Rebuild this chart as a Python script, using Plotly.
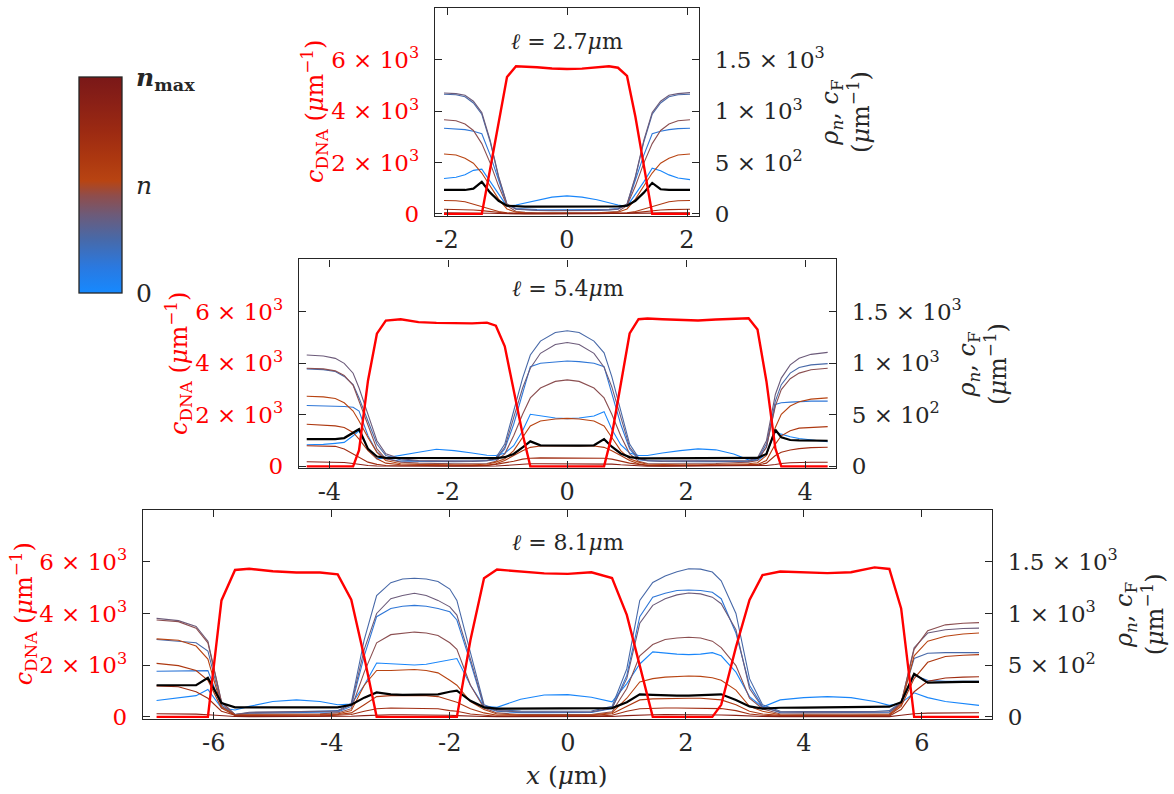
import plotly.graph_objects as go

# ---------------- data ----------------
# panel l = 2.7 um
top_x = [-2.05, -1.85, -1.70, -1.56, -1.42, -1.28, -1.14, -1.0, -0.85, -0.7,
         -0.5, -0.25, 0.0, 0.25, 0.5, 0.7, 0.85, 1.0, 1.14, 1.28,
         1.42, 1.56, 1.70, 1.85, 2.05]
top_dna = [0, 0, 0, 0, 0, 1760, 3510, 5330, 5750, 5740,
           5710, 5660, 5640, 5655, 5700, 5745, 5690, 5370, 3780, 1820,
           0, 0, 0, 0, 0]
top_cf = [233, 233, 233, 246, 312, 207, 128, 80, 72, 70,
          70, 70, 70, 70, 70, 70, 72, 80, 128, 207,
          302, 240, 233, 233, 233]
top_n_lb = [344, 357, 382, 424, 436, 312, 191, 74, 86, 106,
            137, 163, 176, 163, 137, 106, 86, 74, 191, 312,
            445, 420, 380, 350, 334]
top_n_b = [834, 830, 820, 805, 780, 572, 319, 86, 52, 46,
           43, 41, 40, 41, 43, 46, 52, 86, 319, 572,
           780, 805, 820, 830, 834]
top_n_sb = [1165, 1160, 1140, 1080, 970, 700, 355, 92, 45, 38,
            34, 32, 31, 32, 34, 38, 45, 92, 355, 700,
            970, 1080, 1140, 1160, 1165]
top_n_pg = [1177, 1171, 1155, 1097, 986, 716, 366, 96, 48, 40,
            35, 33, 32, 33, 35, 40, 48, 96, 366, 716,
            986, 1097, 1155, 1171, 1180]
top_n_br1 = [916, 907, 875, 812, 684, 494, 271, 80, 23, 15,
             12, 10, 10, 10, 12, 15, 23, 80, 271, 494,
             684, 812, 875, 907, 916]
top_n_br2 = [583, 573, 541, 494, 398, 271, 144, 48, 17, 10,
             8, 7, 7, 7, 8, 10, 17, 48, 144, 271,
             398, 494, 541, 573, 583]
top_n_br3 = [131, 128, 118, 96, 74, 48, 23, 10, 5, 3,
             3, 3, 3, 3, 3, 3, 5, 10, 23, 48,
             74, 96, 118, 128, 131]
top_n_br4 = [45, 44, 42, 38, 32, 22, 13, 6, 3, 2,
             2, 2, 2, 2, 2, 2, 3, 6, 13, 22,
             32, 38, 42, 44, 45]
top_n_dr = [12, 12, 11, 10, 8, 6, 4, 2, 1, 1,
            1, 1, 1, 1, 1, 1, 1, 2, 4, 6,
            8, 10, 11, 12, 12]

# panel l = 5.4 um
mid_x = [-4.38, -4.1, -3.9, -3.75, -3.6, -3.5, -3.35, -3.2, -3.05, -2.8,
         -2.5, -2.2, -1.9, -1.6, -1.35, -1.2, -1.05, -0.9, -0.75, -0.62,
         -0.45, -0.2, 0.0, 0.2, 0.45, 0.62, 0.75, 0.9, 1.05, 1.2,
         1.35, 1.6, 1.9, 2.2, 2.5, 2.8, 3.05, 3.2, 3.35, 3.5,
         3.6, 3.75, 3.9, 4.1, 4.38]
mid_dna = [0, 0, 0, 0, 0, 630, 3320, 5140, 5650, 5700,
           5590, 5560, 5545, 5540, 5570, 5450, 4650, 2950, 1250, 0,
           0, 0, 0, 0, 0, 0, 1200, 3100, 5150, 5700,
           5730, 5700, 5680, 5650, 5690, 5710, 5740, 5300, 3300, 700,
           0, 0, 0, 0, 0]
mid_cf = [264, 264, 264, 274, 328, 360, 169, 95, 82, 82,
          82, 82, 79, 76, 76, 79, 89, 120, 184, 242,
          204, 200, 200, 200, 204, 264, 190, 125, 90, 80,
          78, 78, 78, 79, 80, 80, 76, 82, 120, 354,
          281, 255, 251, 248, 248]
mid_n_lb = [210, 213, 223, 232, 296, 344, 169, 73, 82, 104,
            136, 165, 152, 130, 108, 105, 127, 200, 344, 504,
            488, 469, 462, 469, 488, 530, 360, 210, 130, 105,
            105, 130, 152, 169, 160, 120, 63, 57, 120, 335,
            312, 286, 270, 255, 239]
mid_n_b = [590, 587, 584, 580, 572, 536, 296, 140, 73, 50,
           50, 52, 52, 52, 55, 63, 168, 408, 696, 966,
           998, 1014, 1020, 1014, 998, 966, 696, 408, 168, 63,
           55, 52, 52, 52, 50, 50, 50, 73, 184, 600,
           616, 622, 629, 632, 632]
mid_n_sb = [944, 937, 919, 871, 791, 663, 440, 216, 105, 63,
            51, 44, 44, 47, 57, 82, 216, 536, 855, 1079,
            1213, 1296, 1314, 1296, 1213, 1100, 870, 540, 216, 82,
            57, 47, 44, 44, 46, 48, 50, 73, 216, 632,
            791, 903, 957, 983, 995]
mid_n_pg = [1079, 1069, 1046, 998, 902, 759, 504, 248, 121, 73,
            57, 51, 51, 51, 55, 73, 184, 472, 759, 951,
            1095, 1181, 1199, 1181, 1095, 960, 770, 480, 184, 73,
            55, 51, 51, 51, 53, 55, 57, 82, 248, 696,
            855, 983, 1047, 1085, 1104]
mid_n_br1 = [950, 944, 925, 881, 785, 631, 392, 169, 73, 41,
             31, 25, 25, 25, 28, 50, 121, 296, 504, 663,
             759, 823, 838, 823, 759, 663, 504, 296, 121, 50,
             28, 25, 25, 25, 28, 35, 41, 57, 184, 583,
             743, 849, 903, 935, 950]
mid_n_br2 = [679, 673, 657, 616, 536, 440, 280, 136, 57, 25,
             19, 15, 15, 15, 20, 41, 73, 152, 280, 392,
             440, 459, 465, 459, 440, 392, 280, 152, 73, 41,
             20, 15, 15, 15, 18, 22, 25, 35, 105, 376,
             504, 584, 625, 651, 663]
mid_n_br3 = [408, 402, 392, 376, 328, 264, 152, 73, 31, 15,
             9, 6, 6, 7, 10, 25, 57, 105, 152, 184,
             197, 200, 200, 200, 197, 184, 152, 105, 57, 25,
             10, 7, 6, 6, 8, 12, 15, 19, 57, 216,
             296, 344, 370, 379, 385]
mid_n_br4 = [200, 200, 194, 168, 121, 82, 41, 19, 9, 6,
             6, 6, 6, 6, 8, 19, 31, 50, 70, 79,
             82, 82, 82, 82, 82, 79, 70, 50, 31, 19,
             8, 6, 6, 6, 6, 8, 9, 12, 31, 105,
             136, 159, 172, 181, 185]
mid_n_dr = [45, 45, 43, 38, 28, 18, 8, 3, 2, 1,
            1, 1, 1, 1, 1, 3, 9, 15, 22, 25,
            25, 25, 25, 25, 25, 25, 22, 15, 9, 3,
            1, 1, 1, 1, 1, 1, 2, 3, 8, 18,
            28, 35, 38, 40, 40]

# panel l = 8.1 um
bot_x = [-6.97, -6.6, -6.3, -6.1, -5.87, -5.64, -5.4, -5.0, -4.6, -4.2,
         -3.9, -3.67, -3.45, -3.24, -3.0, -2.8, -2.6, -2.4, -2.2, -2.0,
         -1.88, -1.65, -1.42, -1.2, -0.8, -0.4, 0.0, 0.4, 0.75, 1.0,
         1.22, 1.44, 1.65, 1.85, 2.05, 2.25, 2.45, 2.6, 2.85, 3.08,
         3.3, 3.6, 4.0, 4.4, 4.8, 5.2, 5.45, 5.65, 5.87, 6.1,
         6.4, 6.7, 6.97]
bot_dna = [0, 0, 0, 0, 4510, 5690, 5740, 5640, 5590, 5590,
           5520, 4535, 2320, 0, 0, 0, 0, 0, 0, 0,
           0, 2980, 5370, 5705, 5620, 5560, 5540, 5600, 5380, 3950,
           1985, 0, 0, 0, 0, 0, 0, 465, 2700, 4530,
           5490, 5630, 5600, 5570, 5600, 5790, 5730, 4200, 0, 0,
           0, 0, 0]
bot_cf = [306, 306, 306, 379, 133, 92, 92, 92, 92, 92,
          92, 117, 186, 237, 218, 212, 212, 212, 218, 243,
          253, 155, 92, 79, 79, 79, 79, 79, 85, 142,
          218, 212, 205, 205, 205, 208, 212, 218, 164, 101,
          79, 88, 90, 92, 92, 92, 98, 142, 417, 332,
          338, 338, 338]
bot_n_lb = [158, 180, 205, 265, 85, 66, 101, 148, 164, 148,
            117, 123, 306, 521, 512, 505, 502, 509, 528, 550,
            565, 306, 101, 92, 171, 212, 215, 190, 145, 322,
            512, 629, 616, 607, 603, 607, 622, 591, 433, 196,
            95, 164, 186, 196, 186, 148, 111, 133, 233, 186,
            148, 126, 111]
bot_n_b = [442, 442, 442, 448, 101, 22, 35, 40, 42, 45,
           47, 101, 591, 970, 1049, 1071, 1080, 1071, 1049, 1017,
           938, 528, 92, 54, 41, 41, 41, 42, 80, 401,
           970, 1159, 1197, 1223, 1229, 1223, 1207, 1144, 812, 306,
           101, 41, 40, 40, 40, 42, 45, 133, 401, 354,
           344, 344, 344]
bot_n_sb = [749, 733, 717, 638, 117, 22, 40, 45, 50, 52,
            60, 133, 749, 1175, 1300, 1335, 1343, 1335, 1310, 1238,
            1128, 622, 117, 70, 55, 54, 54, 56, 101, 464,
            1128, 1301, 1365, 1406, 1434, 1431, 1403, 1317, 1001, 370,
            117, 54, 52, 50, 50, 52, 60, 142, 565, 616,
            622, 622, 622]
bot_n_pg = [954, 932, 875, 733, 148, 22, 45, 48, 50, 52,
            54, 117, 654, 1001, 1144, 1175, 1197, 1175, 1128, 1065,
            986, 559, 101, 60, 47, 47, 47, 48, 85, 370,
            906, 1080, 1144, 1181, 1200, 1191, 1159, 1096, 843, 275,
            92, 47, 46, 45, 45, 47, 50, 130, 670, 812,
            843, 856, 859]
bot_n_br1 = [938, 922, 859, 717, 142, 22, 28, 28, 28, 30,
             38, 79, 433, 717, 796, 812, 821, 812, 787, 717,
             654, 306, 85, 38, 22, 22, 22, 22, 50, 275,
             591, 701, 749, 764, 771, 764, 733, 670, 496, 180,
             79, 28, 26, 25, 25, 26, 28, 133, 654, 834,
             891, 907, 913]
bot_n_br2 = [755, 742, 686, 559, 101, 16, 20, 20, 20, 22,
             28, 60, 306, 449, 449, 455, 458, 449, 426, 354,
             306, 148, 70, 28, 18, 18, 18, 18, 40, 180,
             338, 370, 385, 392, 395, 392, 379, 354, 259, 101,
             54, 20, 18, 18, 18, 20, 22, 117, 591, 733,
             780, 802, 812]
bot_n_br3 = [518, 496, 449, 354, 85, 13, 14, 14, 14, 16,
             22, 38, 117, 196, 205, 205, 205, 205, 196, 164,
             142, 79, 38, 16, 12, 12, 12, 12, 30, 101,
             164, 174, 178, 180, 180, 180, 174, 164, 117, 54,
             28, 14, 12, 12, 12, 14, 16, 101, 370, 528,
             585, 597, 603]
bot_n_br4 = [300, 291, 243, 180, 54, 16, 8, 8, 8, 9,
             16, 22, 54, 79, 85, 85, 85, 85, 79, 60,
             54, 28, 16, 6, 6, 6, 6, 6, 15, 54,
             79, 85, 85, 85, 85, 85, 85, 80, 60, 28,
             16, 8, 7, 7, 7, 8, 9, 70, 243, 344,
             376, 385, 389]
bot_n_dr = [30, 29, 26, 20, 8, 3, 2, 2, 2, 2,
            3, 5, 12, 18, 20, 20, 20, 20, 18, 15,
            12, 6, 3, 2, 1, 1, 1, 1, 4, 12,
            18, 20, 22, 22, 22, 22, 20, 18, 14, 7,
            3, 2, 2, 2, 2, 2, 2, 15, 30, 36,
            39, 40, 40]

# position of each cluster-size curve on the colour scale (0 -> n_max)
n_levels = {"lb": 0.02, "b": 0.14, "sb": 0.25, "pg": 0.36, "br1": 0.44,
            "br2": 0.52, "br3": 0.62, "br4": 0.72, "dr": 0.88}

panel_titles = ["<i>ℓ</i> = 2.7<i>μ</i>m", "<i>ℓ</i> = 5.4<i>μ</i>m", "<i>ℓ</i> = 8.1<i>μ</i>m"]
x_ticks_top = [-2, 0, 2]
x_ticks_mid = [-4, -2, 0, 2, 4]
x_ticks_bot = [-6, -4, -2, 0, 2, 4, 6]
dna_ticks = [0, 2000, 4000, 6000]
dna_tick_text = ["0", "2 × 10<sup>3</sup>", "4 × 10<sup>3</sup>", "6 × 10<sup>3</sup>"]
rho_ticks = [0, 500, 1000, 1500]
rho_tick_text = ["0", "5 × 10<sup>2</sup>", "1 × 10<sup>3</sup>", "1.5 × 10<sup>3</sup>"]
cbar_ticks = [0, 0.5, 1]
cbar_tick_text = [" 0", " <i>n</i>", " <b><i>n</i><sub>max</sub></b>"]

# ---------------- styling ----------------
W, H = 1174, 794
FONT = "DejaVu Serif"
INK = "#262626"
RED = "#ff0000"
FS = 23

N_SCALE = [
    [0.00, "#1689ff"],
    [0.12, "#2a79e0"],
    [0.25, "#4869a8"],
    [0.36, "#6c5b7a"],
    [0.45, "#8f4d4c"],
    [0.52, "#b84412"],
    [0.62, "#ad3810"],
    [0.75, "#9c2a12"],
    [0.88, "#8a2016"],
    [1.00, "#7a1818"],
]


def n_colour(t):
    for (p0, c0), (p1, c1) in zip(N_SCALE[:-1], N_SCALE[1:]):
        if p0 <= t <= p1:
            f = (t - p0) / (p1 - p0)
            a = [int(c0[i:i + 2], 16) for i in (1, 3, 5)]
            b = [int(c1[i:i + 2], 16) for i in (1, 3, 5)]
            r = [round(a[k] + f * (b[k] - a[k])) for k in range(3)]
            return f"rgb({r[0]},{r[1]},{r[2]})"
    return N_SCALE[-1][1]


def px_x(v):
    return v / W


def px_y(v):
    return 1 - v / H


panels = [
    dict(box=(435, 8, 699, 219), xr=[-2.2, 2.2], xt=x_ticks_top, title_y=42,
         x=top_x, dna=top_dna, cf=top_cf,
         n={"lb": top_n_lb, "b": top_n_b, "sb": top_n_sb, "pg": top_n_pg, "br1": top_n_br1,
            "br2": top_n_br2, "br3": top_n_br3, "br4": top_n_br4, "dr": top_n_dr}),
    dict(box=(299, 263, 836, 475), xr=[-4.51, 4.52], xt=x_ticks_mid, title_y=293,
         x=mid_x, dna=mid_dna, cf=mid_cf,
         n={"lb": mid_n_lb, "b": mid_n_b, "sb": mid_n_sb, "pg": mid_n_pg, "br1": mid_n_br1,
            "br2": mid_n_br2, "br3": mid_n_br3, "br4": mid_n_br4, "dr": mid_n_dr}),
    dict(box=(143, 517, 992, 729), xr=[-7.2, 7.19], xt=x_ticks_bot, title_y=550,
         x=bot_x, dna=bot_dna, cf=bot_cf,
         n={"lb": bot_n_lb, "b": bot_n_b, "sb": bot_n_sb, "pg": bot_n_pg, "br1": bot_n_br1,
            "br2": bot_n_br2, "br3": bot_n_br3, "br4": bot_n_br4, "dr": bot_n_dr}),
]

fig = go.Figure()
layout = dict(width=W, height=H, margin=dict(l=0, r=0, t=0, b=0),
              paper_bgcolor="white", plot_bgcolor="rgba(0,0,0,0)",
              showlegend=False, font=dict(family=FONT, size=FS, color=INK))
annotations = []

for i, p in enumerate(panels):
    xa = "x" if i == 0 else f"x{i + 1}"
    yb = "y" if i == 0 else f"y{2 * i + 1}"      # right axis: rho_n, c_F
    yo = f"y{2 * i + 2}"                          # left axis: c_DNA
    xkey = "xaxis" if i == 0 else f"xaxis{i + 1}"
    ybkey = "yaxis" if i == 0 else f"yaxis{2 * i + 1}"
    yokey = f"yaxis{2 * i + 2}"
    l, t, r, b = p["box"]

    for name, vals in p["n"].items():
        fig.add_trace(go.Scatter(x=p["x"], y=vals, mode="lines", xaxis=xa, yaxis=yb,
                                 line=dict(color=n_colour(n_levels[name]), width=1.1),
                                 hoverinfo="skip"))
    fig.add_trace(go.Scatter(x=p["x"], y=p["cf"], mode="lines", xaxis=xa, yaxis=yb,
                             line=dict(color="black", width=2.2), hoverinfo="skip"))
    fig.add_trace(go.Scatter(x=p["x"], y=p["dna"], mode="lines", xaxis=xa, yaxis=yo,
                             line=dict(color=RED, width=2.4), hoverinfo="skip"))

    layout[xkey] = dict(domain=[px_x(l), px_x(r)], range=p["xr"], anchor=yb,
                        tickvals=p["xt"], ticktext=[str(v) for v in p["xt"]],
                        ticks="inside", ticklen=7, tickwidth=1.2, tickcolor=INK,
                        showline=True, linecolor=INK, linewidth=1.4, mirror="ticks",
                        showgrid=False, zeroline=False, ticklabelstandoff=2,
                        tickfont=dict(family=FONT, size=24, color=INK))
    layout[ybkey] = dict(domain=[px_y(b), px_y(t)], range=[-20, 2005], anchor=xa, side="right",
                         tickvals=rho_ticks, ticktext=rho_tick_text,
                         ticks="inside", ticklen=7, tickwidth=1.2, tickcolor=INK,
                         showline=True, linecolor=INK, linewidth=1.4,
                         showgrid=False, zeroline=False, ticklabelstandoff=10,
                         tickfont=dict(family=FONT, size=FS, color=INK))
    layout[yokey] = dict(overlaying=yb, anchor=xa, side="left", range=[-80, 8020],
                         tickvals=dna_ticks, ticktext=dna_tick_text,
                         ticks="inside", ticklen=7, tickwidth=1.2, tickcolor=INK,
                         showline=True, linecolor=INK, linewidth=1.4,
                         showgrid=False, zeroline=False, ticklabelstandoff=10,
                         tickfont=dict(family=FONT, size=FS, color=RED))

    cy = px_y((t + b) / 2)
    annotations.append(dict(text=panel_titles[i], xref="paper", yref="paper",
                            x=px_x((l + r) / 2), y=px_y(p["title_y"]), showarrow=False,
                            xanchor="center", yanchor="middle",
                            font=dict(family=FONT, size=22, color=INK)))
    annotations.append(dict(text="<i>c</i><sub>DNA</sub> (<i>μ</i>m<sup>−1</sup>)",
                            xref="paper", yref="paper", x=px_x(l - 120), y=cy,
                            showarrow=False, textangle=-90, xanchor="center", yanchor="middle",
                            font=dict(family=FONT, size=24, color=RED)))
    annotations.append(dict(text="<i>ρ<sub>n</sub></i>, <i>c</i><sub>F</sub><br>(<i>μ</i>m<sup>−1</sup>)",
                            xref="paper", yref="paper", x=px_x(r + 147), y=cy,
                            showarrow=False, textangle=-90, xanchor="center", yanchor="middle",
                            font=dict(family=FONT, size=24, color=INK)))

annotations.append(dict(text="<i>x</i> (<i>μ</i>m)", xref="paper", yref="paper",
                        x=px_x(567), y=px_y(786), showarrow=False,
                        xanchor="center", yanchor="middle",
                        font=dict(family=FONT, size=25, color=INK)))

# colour bar for cluster size n
fig.add_trace(go.Scatter(
    x=[None], y=[None], mode="markers", xaxis="x", yaxis="y", hoverinfo="skip",
    marker=dict(color=[0], colorscale=N_SCALE, cmin=0, cmax=1, showscale=True,
                colorbar=dict(x=px_x(79), xanchor="left", y=px_y(297), yanchor="bottom",
                              len=219 / H, lenmode="fraction", thickness=43,
                              thicknessmode="pixels", xpad=0, ypad=0,
                              outlinewidth=1.3, outlinecolor=INK,
                              tickvals=cbar_ticks, ticktext=cbar_tick_text, ticks="",
                              tickfont=dict(family=FONT, size=25, color=INK)))))

layout["annotations"] = annotations
fig.update_layout(**layout)
fig.write_html("out.html")
